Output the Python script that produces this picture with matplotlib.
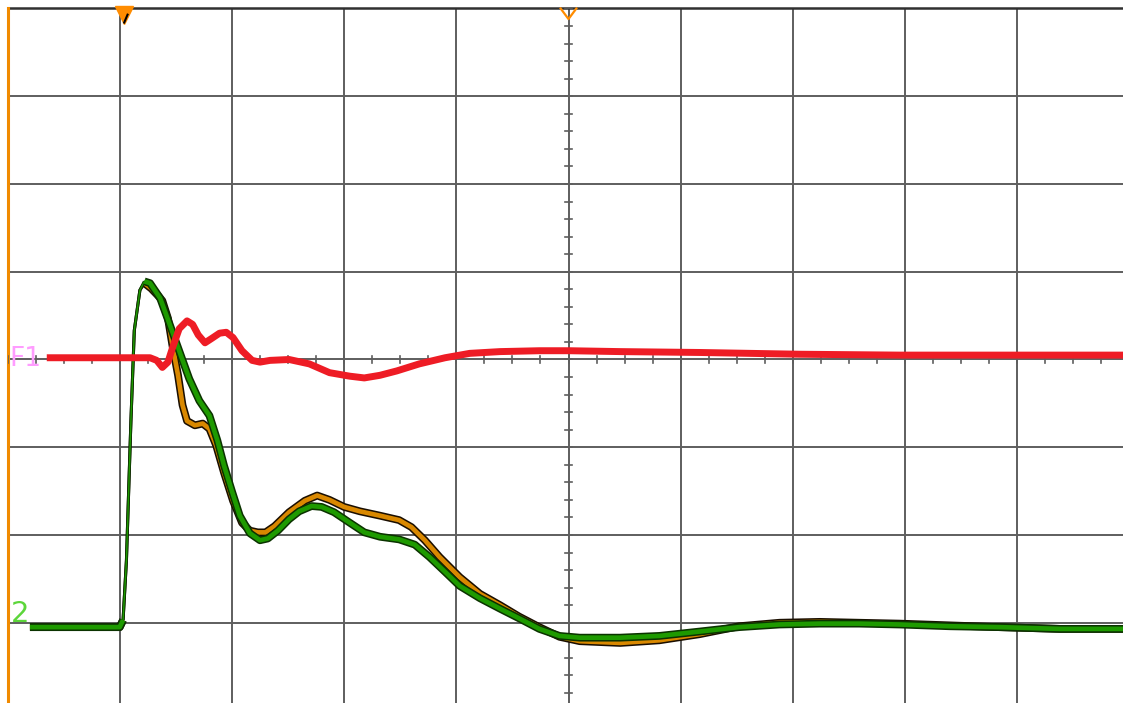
import numpy as np
import matplotlib
matplotlib.use("Agg")
import matplotlib.pyplot as plt

# screen is 10 x 8 divisions, values below are in divisions
# (time from left edge, level from centre line)

# channel 2 trace (green)
ch2_t = [0.20, 1.00, 1.03, 1.06, 1.10, 1.13, 1.18, 1.22, 1.27, 1.36, 1.44, 1.53,
         1.62, 1.71, 1.80, 1.87, 1.93, 2.00, 2.07, 2.16, 2.25, 2.32, 2.41, 2.51,
         2.60, 2.71, 2.80, 2.91, 3.05, 3.18, 3.32, 3.49, 3.63, 3.76, 3.90, 4.03,
         4.21, 4.39, 4.56, 4.74, 4.92, 5.10, 5.46, 5.81, 6.17, 6.52, 6.88, 7.24,
         7.59, 7.95, 8.40, 8.84, 9.38, 9.96]
ch2_v = [-3.05, -3.05, -2.97, -2.29, -0.70, 0.33, 0.79, 0.89, 0.87, 0.70, 0.42, 0.10,
         -0.22, -0.47, -0.64, -0.92, -1.21, -1.50, -1.78, -1.98, -2.06, -2.04, -1.95, -1.82,
         -1.73, -1.67, -1.68, -1.74, -1.86, -1.97, -2.02, -2.05, -2.11, -2.25, -2.42, -2.58,
         -2.72, -2.84, -2.95, -3.07, -3.15, -3.17, -3.17, -3.15, -3.10, -3.05, -3.02, -3.01,
         -3.01, -3.02, -3.04, -3.05, -3.07, -3.07]

# channel 1 trace (orange), mostly hidden under ch2 before the rise
ch1_t = [0.20, 1.00, 1.03, 1.06, 1.10, 1.13, 1.18, 1.22, 1.28, 1.34, 1.38, 1.43,
         1.47, 1.52, 1.56, 1.60, 1.67, 1.74, 1.80, 1.86, 1.93, 2.01, 2.09, 2.16,
         2.23, 2.30, 2.38, 2.51, 2.65, 2.76, 2.87, 3.00, 3.14, 3.32, 3.49, 3.60,
         3.72, 3.85, 4.03, 4.21, 4.39, 4.56, 4.74, 4.92, 5.10, 5.46, 5.81, 6.17,
         6.52, 6.88, 7.24, 7.59, 7.95, 8.40, 8.84, 9.38, 9.96]
ch1_v = [-3.05, -3.05, -2.97, -2.29, -0.70, 0.33, 0.79, 0.87, 0.81, 0.73, 0.67, 0.47,
         0.16, -0.18, -0.52, -0.70, -0.75, -0.73, -0.79, -0.98, -1.29, -1.61, -1.86, -1.95,
         -1.97, -1.97, -1.90, -1.74, -1.61, -1.55, -1.60, -1.68, -1.73, -1.78, -1.83, -1.91,
         -2.06, -2.25, -2.48, -2.67, -2.80, -2.93, -3.05, -3.16, -3.21, -3.23, -3.20, -3.13,
         -3.04, -3.00, -2.99, -3.00, -3.01, -3.03, -3.05, -3.07, -3.07]

# math trace F1 (red)
f1_t = [0.35, 1.27, 1.33, 1.38, 1.43, 1.47, 1.53, 1.60, 1.65, 1.70, 1.76, 1.82,
        1.89, 1.95, 2.01, 2.09, 2.18, 2.25, 2.34, 2.51, 2.69, 2.87, 3.05, 3.18,
        3.32, 3.47, 3.67, 3.90, 4.12, 4.39, 4.74, 5.01, 5.46, 6.17, 7.06, 7.95,
        8.84, 9.96]
f1_v = [0.02, 0.02, -0.01, -0.09, -0.03, 0.13, 0.35, 0.44, 0.40, 0.28, 0.19, 0.24,
        0.30, 0.31, 0.25, 0.10, -0.01, -0.03, -0.01, 0.00, -0.05, -0.15, -0.19, -0.21,
        -0.18, -0.13, -0.05, 0.02, 0.07, 0.09, 0.10, 0.10, 0.09, 0.08, 0.06, 0.05,
        0.05, 0.05]

RISE = (2, 7)   # index range of the fast edge, drawn thin

W, H = 1123, 703
fig = plt.figure(figsize=(W / 100, H / 100), dpi=100)
fig.patch.set_facecolor("white")
ax = fig.add_axes([7.5 / W, (H - 8.5 - 702) / H, 1122 / W, 702 / H])
ax.set_xlim(0, 10)
ax.set_ylim(-4, 4)
ax.axis("off")

grid = "#5e5e5e"
for x in range(1, 10):
    ax.axvline(x, color=grid, lw=1.4, zorder=1)
for y in range(-3, 4):
    ax.axhline(y, color=grid, lw=1.4, zorder=1)
ax.axhline(4, color="#303030", lw=1.8, zorder=1, clip_on=False)
ax.axvline(0, color="#f08a00", lw=2.2, zorder=1, clip_on=False)

# minor ticks on the centre cross
for yy in np.arange(-4, 4.01, 0.2):
    ax.plot([4.965, 5.035], [yy, yy], color=grid, lw=1.2, zorder=1)
for xx in np.arange(0, 10.01, 0.25):
    ax.plot([xx, xx], [-0.045, 0.045], color=grid, lw=1.2, zorder=1)


def trace(t, v, edge, face, wide, zo):
    t = np.asarray(t)
    v = np.asarray(v)
    a, b = RISE
    ax.plot(t[a:b + 1], v[a:b + 1], color=edge, lw=2.2, zorder=zo,
            solid_capstyle="butt")
    ax.plot(t[a:b + 1], v[a:b + 1], color=face, lw=1.0, zorder=zo)
    for sl in (slice(0, a + 1), slice(b, None)):
        ax.plot(t[sl], v[sl], color=edge, lw=wide, zorder=zo,
                solid_joinstyle="round", solid_capstyle="butt")
        ax.plot(t[sl], v[sl], color=face, lw=wide * 0.6, zorder=zo,
                solid_joinstyle="round", solid_capstyle="butt")


trace(ch1_t, ch1_v, "#1a0e00", "#d98800", 5.6, 3)
trace(ch2_t, ch2_v, "#0b3300", "#1e9a00", 5.6, 4)

ax.plot(f1_t, f1_v, color="#ee1c25", lw=5.0, zorder=5,
        solid_joinstyle="round", solid_capstyle="butt")

# trace labels
ax.text(0.02, 0.0, "F1", color="#ff9cff", fontsize=19, va="center",
        ha="left", zorder=6)
ax.text(0.03, -2.9, "2", color="#5cd63a", fontsize=21, va="center",
        ha="left", zorder=6)

# trigger markers along the top edge
ax.plot([1.04], [3.93], marker="v", ms=13, color="#ff8c00", mec="#ff8c00",
        zorder=6, clip_on=False)
ax.plot([1.04, 1.07], [3.84, 3.93], color="black", lw=1.5, zorder=7)
ax.plot([4.93, 5.0, 5.07], [4.0, 3.88, 4.0], color="#ff8c00", lw=1.6,
        zorder=6, clip_on=False)

fig.savefig("out.png", dpi=100, facecolor="white")
